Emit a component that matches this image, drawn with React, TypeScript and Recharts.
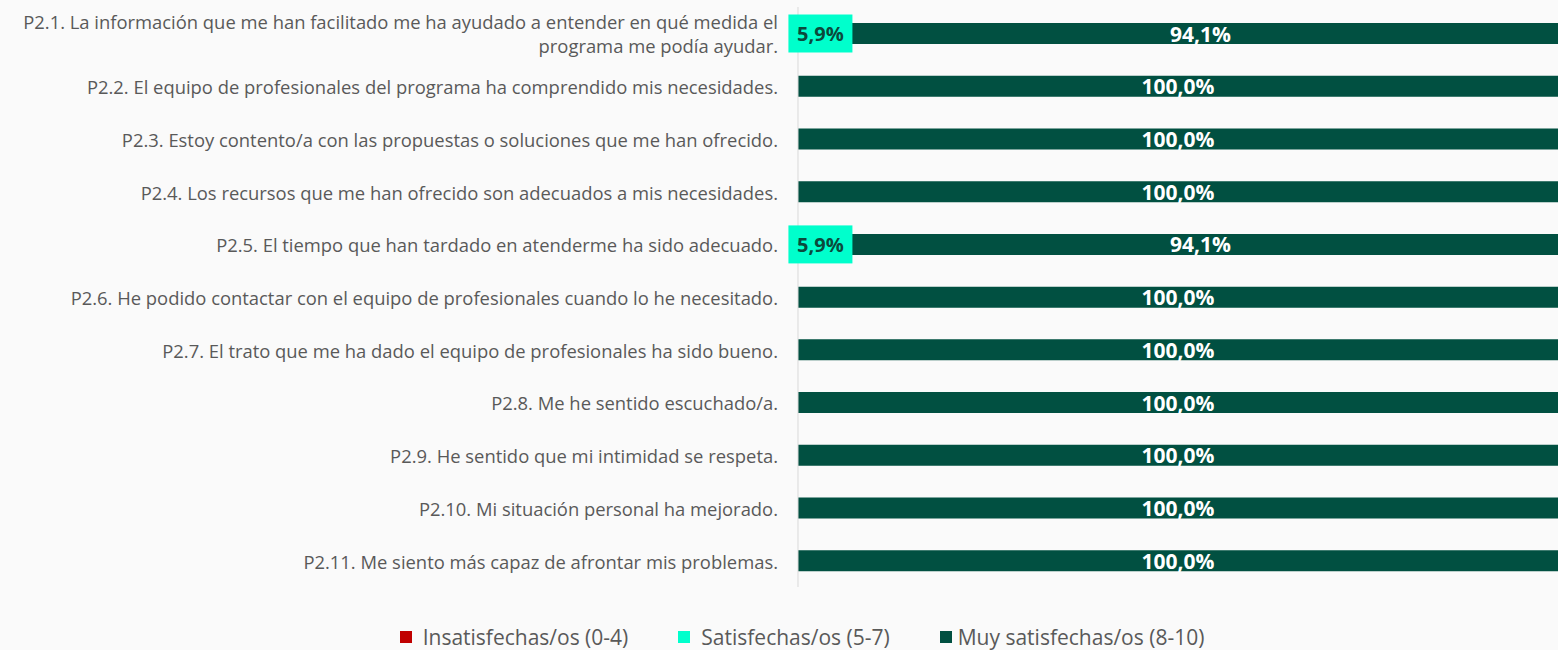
import { Bar, BarChart, LabelList, Legend, XAxis, YAxis } from 'recharts';

const questions = [
    'P2.1. La información que me han facilitado me ha ayudado a entender en qué medida el\nprograma me podía ayudar.',
    'P2.2. El equipo de profesionales del programa ha comprendido mis necesidades.',
    'P2.3. Estoy contento/a con las propuestas o soluciones que me han ofrecido.',
    'P2.4. Los recursos que me han ofrecido son adecuados a mis necesidades.',
    'P2.5. El tiempo que han tardado en atenderme ha sido adecuado.',
    'P2.6. He podido contactar con el equipo de profesionales cuando lo he necesitado.',
    'P2.7. El trato que me ha dado el equipo de profesionales ha sido bueno.',
    'P2.8. Me he sentido escuchado/a.',
    'P2.9. He sentido que mi intimidad se respeta.',
    'P2.10. Mi situación personal ha mejorado.',
    'P2.11. Me siento más capaz de afrontar mis problemas.',
];

const insatisfechas = [0, 0, 0, 0, 0, 0, 0, 0, 0, 0, 0];
const satisfechas = [5.9, 0, 0, 0, 5.9, 0, 0, 0, 0, 0, 0];
const muySatisfechas = [94.1, 100, 100, 100, 94.1, 100, 100, 100, 100, 100, 100];

const seriesNames = ['Insatisfechas/os (0-4)', 'Satisfechas/os (5-7)', 'Muy satisfechas/os (8-10)'];

const RED = '#c00000';
const CYAN = '#00ffcc';
const DARK = '#015041';

const data = questions.map((q, i) => ({
    label: q,
    insat: insatisfechas[i],
    sat: satisfechas[i],
    muy: muySatisfechas[i],
}));

const fmt = (v: number) => v.toFixed(1).replace('.', ',') + '%';

function QuestionTick({ x, y, payload }: any) {
    const lines = String(payload.value).split('\n');
    const start = y - ((lines.length - 1) * 24) / 2;
    return (
        <text x={x} y={start} textAnchor='end' fill='#595959' fontSize={18.4} dominantBaseline='central'>
            {lines.map((l, i) => (
                <tspan key={i} x={x} y={start + i * 24} dominantBaseline='central'>
                    {l}
                </tspan>
            ))}
        </text>
    );
}

function SatLabel({ x, y, width, height, value }: any) {
    if (!value) return null;
    const cx = x + width / 2;
    const cy = y + height / 2;
    return (
        <g>
            <rect x={cx - 32} y={cy - 19} width={64} height={38} fill={CYAN} />
            <text x={cx} y={cy} textAnchor='middle' dominantBaseline='central' fill='#0b4a3c' fontWeight='bold' fontSize={20}>
                {fmt(value)}
            </text>
        </g>
    );
}

function MuyLabel({ x, y, width, height, value }: any) {
    if (!value) return null;
    return (
        <text x={x + width / 2} y={y + height / 2} textAnchor='middle' dominantBaseline='central' fill='#ffffff' fontWeight='bold' fontSize={21}>
            {fmt(value)}
        </text>
    );
}

function LegendContent() {
    const colors = [RED, CYAN, DARK];
    return (
        <div style={{ display: 'flex', justifyContent: 'center', alignItems: 'center', height: 30, color: '#595959', fontSize: 21, paddingLeft: 46 }}>
            {seriesNames.map((n, i) => (
                <div key={n} style={{ display: 'flex', alignItems: 'center', marginRight: i < 2 ? 50 : 0 }}>
                    <span style={{ width: 12, height: 12, background: colors[i], display: 'inline-block', marginRight: i === 2 ? 6 : 11 }} />
                    <span>{n}</span>
                </div>
            ))}
        </div>
    );
}

export default function App() {
    return (
        <div style={{ position: 'absolute', left: 0, top: 0, width: 1558, height: 650, background: '#fafafa', fontFamily: '"Open Sans", sans-serif' }}>
            <BarChart width={1558} height={650} data={data} layout='vertical' margin={{ top: 7, right: 0, bottom: 33, left: 0 }} barSize={21}>
                <XAxis type='number' domain={[0, 100]} hide />
                <YAxis
                    type='category'
                    dataKey='label'
                    width={798}
                    interval={0}
                    tickLine={false}
                    tickSize={0}
                    tickMargin={20}
                    axisLine={{ stroke: '#d9d9d9' }}
                    tick={<QuestionTick />}
                />
                <Legend verticalAlign='bottom' content={<LegendContent />} wrapperStyle={{ top: 622, bottom: 'auto', left: 0, width: 1558 }} />
                <Bar dataKey='insat' name={seriesNames[0]} stackId='a' fill={RED} isAnimationActive={false} />
                <Bar dataKey='sat' name={seriesNames[1]} stackId='a' fill={CYAN} isAnimationActive={false}>
                    <LabelList dataKey='sat' content={<SatLabel />} />
                </Bar>
                <Bar dataKey='muy' name={seriesNames[2]} stackId='a' fill={DARK} isAnimationActive={false}>
                    <LabelList dataKey='muy' content={<MuyLabel />} />
                </Bar>
            </BarChart>
        </div>
    );
}
